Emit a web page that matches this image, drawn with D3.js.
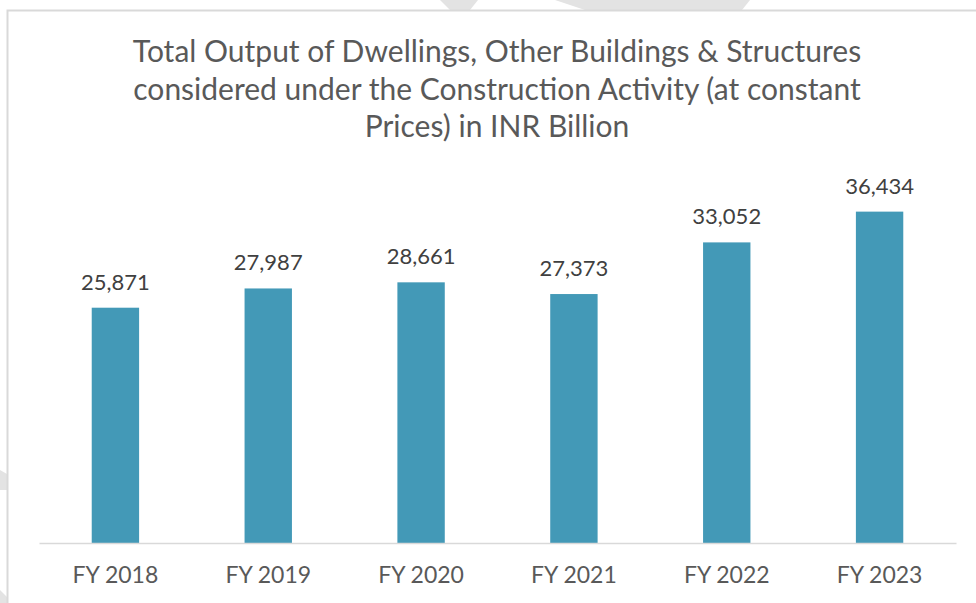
<!DOCTYPE html>
<html>
<head>
<meta charset="utf-8">
<script src="https://cdn.jsdelivr.net/npm/d3@7"></script>
<style>
  body { margin: 0; background: #fff; }
  svg { display: block; font-family: Lato, 'Open Sans', sans-serif; }
</style>
</head>
<body>
<div id="chart"></div>
<script>
// data
const years = ['FY 2018', 'FY 2019', 'FY 2020', 'FY 2021', 'FY 2022', 'FY 2023'];
const output = [25871, 27987, 28661, 27373, 33052, 36434];
const titleLines = [
    'Total Output of Dwellings, Other Buildings & Structures',
    'considered under the Construction Activity (at constant',
    'Prices) in INR Billion'
];

const W = 976, H = 603;
const base = 543;

const svg = d3.select('#chart')
    .append('svg')
    .attr('width', W)
    .attr('height', H);

// faint watermark bits behind the chart
const wm = svg.append('g').attr('fill', '#e3e3e3');
wm.append('path').attr('d', 'M440,0 L478,0 L470,10 L450,10 Z');
wm.append('path').attr('d', 'M555,0 L750,0 L742,10 L585,10 Z');
wm.append('path').attr('d', 'M0,470 L7,474 L7,490 L0,490 Z');
wm.append('path').attr('d', 'M0,590 L7,597 L7,603 L0,603 Z');

// chart frame (only left & top edges fall inside the picture)
svg.append('path')
    .attr('d', 'M7.5,' + H + ' L7.5,10.5 L' + W + ',10.5')
    .attr('fill', 'none')
    .attr('stroke', '#d9d9d9')
    .attr('stroke-width', 2);

const x = d3.scaleBand()
    .domain(years)
    .range([39, 956])
    .paddingInner(0.69)
    .paddingOuter(0.345);

const y = d3.scaleLinear()
    .domain([0, 40000])
    .range([base, base - 363.8]);

// title
svg.append('text')
    .attr('x', 497)
    .attr('y', 62)
    .attr('text-anchor', 'middle')
    .attr('fill', '#595959')
    .style('font-size', '30px')
    .selectAll('tspan')
    .data(titleLines)
    .join('tspan')
    .attr('x', 497)
    .attr('dy', (d, i) => i ? 37.5 : 0)
    .text(d => d);

// bars
svg.append('g')
    .selectAll('rect')
    .data(output)
    .join('rect')
    .attr('x', (d, i) => x(years[i]))
    .attr('y', d => y(d))
    .attr('width', x.bandwidth())
    .attr('height', d => base - y(d))
    .attr('fill', '#4399b7');

// value labels
svg.append('g')
    .selectAll('text')
    .data(output)
    .join('text')
    .attr('x', (d, i) => x(years[i]) + x.bandwidth() / 2)
    .attr('y', d => y(d) - 18)
    .attr('text-anchor', 'middle')
    .attr('fill', '#404040')
    .style('font-size', '22px')
    .text(d => d3.format(',')(d));

// x axis
const xAxis = svg.append('g')
    .attr('transform', 'translate(0,' + base + ')')
    .call(d3.axisBottom(x).tickSize(0).tickPadding(0));

xAxis.select('.domain')
    .attr('stroke', '#d9d9d9')
    .attr('stroke-width', 1.5);

xAxis.selectAll('.tick text')
    .attr('dy', 0)
    .attr('y', 40)
    .attr('fill', '#595959')
    .style('font-family', 'Lato, sans-serif')
    .style('font-size', '23px');
</script>
</body>
</html>
